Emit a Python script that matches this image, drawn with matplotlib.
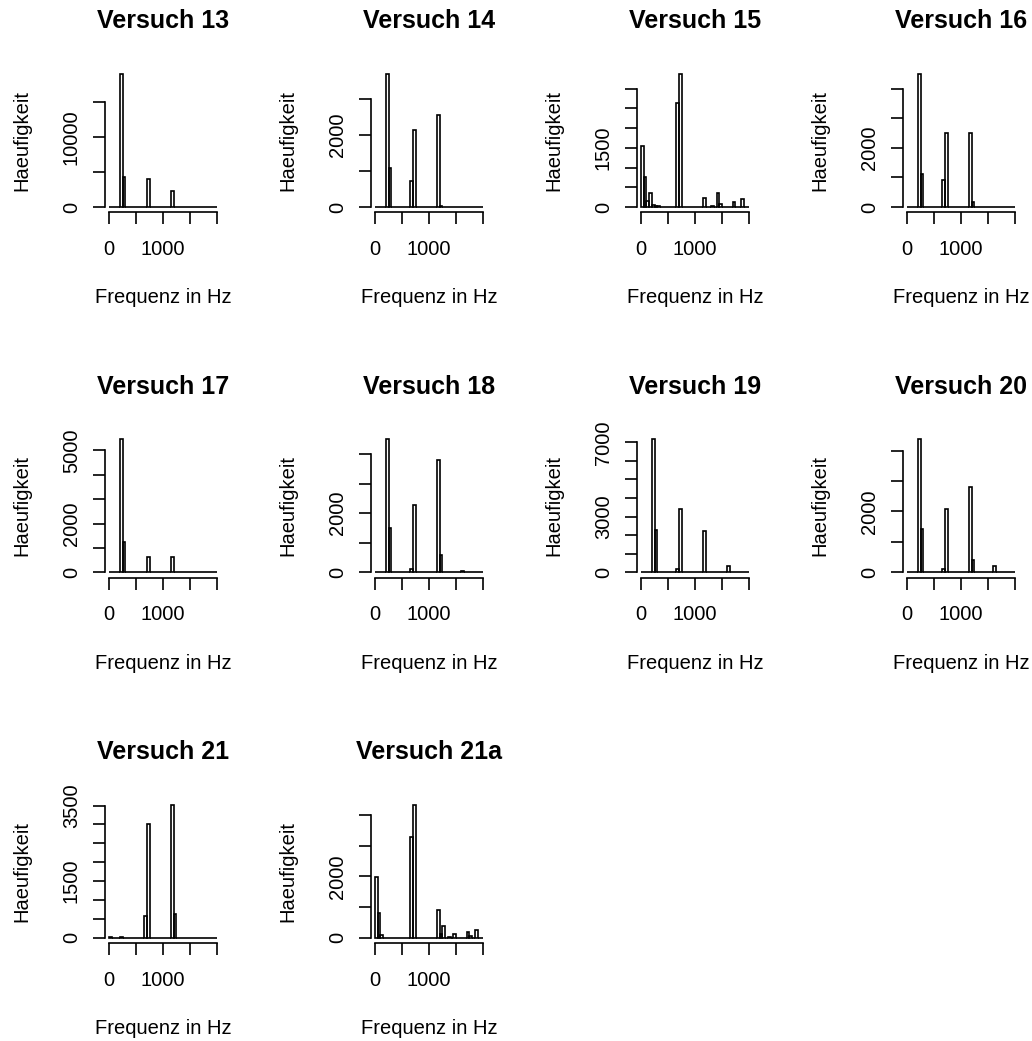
import numpy as np
import matplotlib
matplotlib.use('Agg')
import matplotlib.pyplot as plt

plt.rcParams['font.family'] = ['Liberation Sans', 'DejaVu Sans']

# histogram bins (50 Hz wide, 0..2000 Hz)
bin_edges = np.arange(0, 2001, 50)

# non-empty bins per experiment: bin start (Hz) and count
titles = ['Versuch 13', 'Versuch 14', 'Versuch 15', 'Versuch 16',
          'Versuch 17', 'Versuch 18', 'Versuch 19', 'Versuch 20',
          'Versuch 21', 'Versuch 21a']

v13_bins = [200, 250, 700, 1150]
v13_counts = [18960, 4290, 3960, 2290]
v14_bins = [200, 250, 650, 700, 1150, 1200]
v14_counts = [3685, 1083, 722, 2139, 2537, 30]
v15_bins = [0, 50, 100, 150, 200, 250, 300, 650, 700, 1150, 1300, 1400, 1450, 1700, 1850]
v15_counts = [1559, 771, 150, 356, 40, 30, 15, 2644, 3373, 237, 25, 364, 76, 127, 195]
v16_bins = [200, 250, 650, 700, 1150, 1200]
v16_counts = [4497, 1119, 927, 2497, 2497, 170]
v17_bins = [200, 250, 700, 1150]
v17_counts = [5453, 1222, 618, 618]
v18_bins = [0, 200, 250, 650, 700, 1150, 1200, 1600, 1650]
v18_counts = [20, 4498, 1511, 124, 2289, 3800, 575, 30, 20]
v19_bins = [200, 250, 650, 700, 1150, 1600]
v19_counts = [7163, 2280, 160, 3411, 2244, 360]
v20_bins = [200, 250, 450, 650, 700, 1150, 1200, 1600]
v20_counts = [4375, 1414, 15, 110, 2094, 2818, 406, 208]
v21_bins = [0, 200, 650, 700, 1150, 1200]
v21_counts = [10, 15, 582, 3007, 3527, 626]
v21a_bins = [0, 50, 100, 650, 700, 1150, 1200, 1250, 1350, 1450, 1700, 1750, 1850]
v21a_counts = [1989, 793, 87, 3293, 4348, 902, 109, 391, 30, 109, 196, 50, 250]

all_bins = [v13_bins, v14_bins, v15_bins, v16_bins, v17_bins,
            v18_bins, v19_bins, v20_bins, v21_bins, v21a_bins]
all_counts = [v13_counts, v14_counts, v15_counts, v16_counts, v17_counts,
              v18_counts, v19_counts, v20_counts, v21_counts, v21a_counts]

# y axis ticks and the labels R actually printed
y_ticks = [np.arange(0, 15001, 5000), np.arange(0, 3001, 1000), np.arange(0, 3001, 500),
           np.arange(0, 4001, 1000), np.arange(0, 5001, 1000), np.arange(0, 4001, 1000),
           np.arange(0, 7001, 1000), np.arange(0, 4001, 1000), np.arange(0, 3501, 500),
           np.arange(0, 4001, 1000)]
y_shown = [['0', '10000'], ['0', '2000'], ['0', '1500'], ['0', '2000'],
           ['0', '2000', '5000'], ['0', '2000'], ['0', '3000', '7000'],
           ['0', '2000'], ['0', '1500', '3500'], ['0', '2000']]
x_ticks = [0, 500, 1000, 1500, 2000]
x_shown = ['0', '1000']

W, H = 1032, 1041
fig = plt.figure(figsize=(W / 100, H / 100), dpi=100)

fs = 14.5
lw = 1.2
col_step, row_step = 266.0, 365.3
for i, title in enumerate(titles):
    r, c = divmod(i, 4)
    left = 104.7 + col_step * c
    top = 68.7 + row_step * r
    pw, ph = 116.6, 143.6
    ax = fig.add_axes([left / W, 1 - (top + ph) / H, pw / W, ph / H])

    counts = np.zeros(len(bin_edges) - 1)
    for b, n in zip(all_bins[i], all_counts[i]):
        counts[b // 50] = n
    ax.bar(bin_edges[:-1], counts, width=50, align='edge', fill=False,
           edgecolor='black', linewidth=lw)

    ymax = counts.max()
    ax.set_xlim(-80, 2080)
    ax.set_ylim(-0.04 * ymax, 1.04 * ymax)

    for s in ['top', 'right']:
        ax.spines[s].set_visible(False)
    ax.spines['left'].set_bounds(0, y_ticks[i][-1])
    ax.spines['bottom'].set_bounds(0, 2000)
    for s in ['left', 'bottom']:
        ax.spines[s].set_linewidth(lw)

    ax.set_xticks(x_ticks)
    ax.set_xticklabels([str(t) if str(t) in x_shown else '' for t in x_ticks], fontsize=fs)
    ax.set_yticks(y_ticks[i])
    ax.set_yticklabels([str(t) if str(t) in y_shown[i] else '' for t in y_ticks[i]],
                       fontsize=fs, rotation=90, va='center')
    ax.tick_params(axis='x', length=8.9, width=lw, pad=11)
    ax.tick_params(axis='y', length=8.6, width=lw, pad=8.6)

    cx = (left + pw / 2) / W
    fig.text(cx, 1 - (28.3 + row_step * r) / H, title, ha='center', va='baseline',
             fontsize=18, fontweight='bold')
    fig.text(cx, 1 - (303.3 + row_step * r) / H, 'Frequenz in Hz', ha='center',
             va='baseline', fontsize=fs)
    fig.text((21.4 + col_step * c) / W, 1 - (top + ph / 2) / H, 'Haeufigkeit',
             rotation=90, ha='center', va='center', fontsize=fs)

plt.savefig('out.png', dpi=100)
